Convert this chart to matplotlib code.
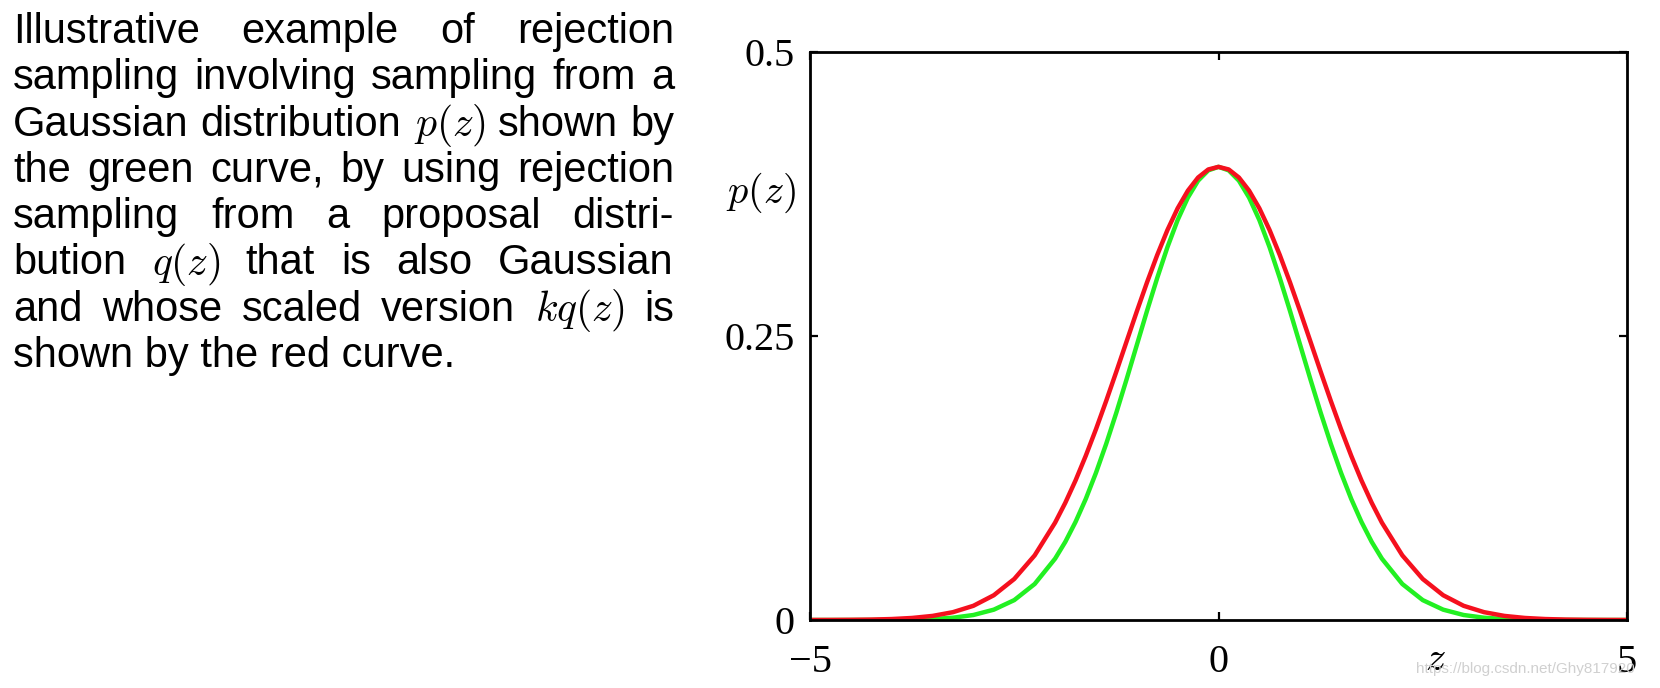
import matplotlib
matplotlib.use("Agg")
import matplotlib.pyplot as plt

plt.rcParams['mathtext.fontset'] = 'cm'

z_half = [0.0, 0.125, 0.25, 0.375, 0.5, 0.625, 0.75, 0.875, 1.0, 1.125,
          1.25, 1.375, 1.5, 1.625, 1.75, 1.875, 2.0, 2.25, 2.5, 2.75,
          3.0, 3.25, 3.5, 3.75, 4.0, 4.25, 4.5, 4.75, 5.0]

# green curve p(z)
p_half = [0.3989, 0.3958, 0.3867, 0.3718, 0.3521, 0.3282, 0.3011, 0.2721,
          0.2420, 0.2119, 0.1826, 0.1550, 0.1295, 0.1065, 0.0863, 0.0688,
          0.0540, 0.0317, 0.0175, 0.0091, 0.0044, 0.0020, 0.00087, 0.00035,
          0.00013, 0.00005, 0.00002, 0.000005, 0.0]
# red curve kq(z)
kq_half = [0.3989, 0.3966, 0.3895, 0.3779, 0.3624, 0.3433, 0.3213, 0.2972,
           0.2716, 0.2452, 0.2187, 0.1928, 0.1679, 0.1445, 0.1228, 0.1032,
           0.0857, 0.0569, 0.0361, 0.0218, 0.0125, 0.0069, 0.0036, 0.0018,
           0.00085, 0.00038, 0.00017, 0.00007, 0.00003]

z = [-v for v in z_half[::-1]] + z_half[1:]
p_vals = p_half[::-1] + p_half[1:]
kq_vals = kq_half[::-1] + kq_half[1:]

x_ticks = [-5, 0, 5]
x_tick_labels = ['\u22125', '0', '5']
y_ticks = [0, 0.25, 0.5]
y_tick_labels = ['0', '0.25', '0.5']

caption = [
    ["Illustrative", "example", "of", "rejection"],
    ["sampling", "involving", "sampling", "from", "a"],
    ["Gaussian", "distribution", "$p(z)$", "shown", "by"],
    ["the", "green", "curve,", "by", "using", "rejection"],
    ["sampling", "from", "a", "proposal", "distri-"],
    ["bution", "$q(z)$", "that", "is", "also", "Gaussian"],
    ["and", "whose", "scaled", "version", "$kq(z)$", "is"],
    ["shown", "by", "the", "red", "curve."],
]

W, H = 1660, 688
fig = plt.figure(figsize=(W / 100, H / 100), dpi=100)
ax = fig.add_axes([810 / W, 1 - 620 / H, 817 / W, 568 / H])

ax.plot(z, p_vals, color='#22f022', lw=3.2, solid_joinstyle='round')
ax.plot(z, kq_vals, color='#f5101e', lw=3.2, solid_joinstyle='round')

ax.set_xlim(-5, 5)
ax.set_ylim(0, 0.5)
ax.set_xticks(x_ticks)
ax.set_xticklabels(x_tick_labels)
ax.set_yticks(y_ticks)
ax.set_yticklabels(y_tick_labels)
for spine in ax.spines.values():
    spine.set_linewidth(2.0)
ax.tick_params(direction='in', length=6, width=1.6, top=True, right=True,
               labelsize=29)
ax.tick_params(axis='x', pad=17)
ax.tick_params(axis='y', pad=11)
for lab in ax.get_xticklabels() + ax.get_yticklabels():
    lab.set_fontfamily('Liberation Serif')

ax.text(-0.018, 0.752, '$p(z)$', transform=ax.transAxes, ha='right',
        va='center', fontsize=29)
ax.text(2.65, -0.068, '$z$', transform=ax.get_xaxis_transform(),
        ha='center', va='center', fontsize=29)

fig.text(1416 / W, 1 - 669 / H, 'https://blog.csdn.net/Ghy817920',
         fontsize=11, color='#d0d0d0', family='Liberation Sans',
         va='center', ha='left')

# justified caption on the left
left, right = 13, 674
base0, step = 43, 46.3
fs = 30
fig.canvas.draw()
renderer = fig.canvas.get_renderer()
for i, words in enumerate(caption):
    yb = 1 - (base0 + step * i) / H
    if i == len(caption) - 1:
        fig.text(left / W, yb, ' '.join(words), fontsize=fs,
                 family='Liberation Sans', va='baseline', ha='left')
        continue
    texts = [fig.text(0, yb, w, fontsize=fs, family='Liberation Sans',
                      va='baseline', ha='left') for w in words]
    widths = [t.get_window_extent(renderer).width for t in texts]
    gap = (right - left - sum(widths)) / (len(words) - 1)
    x = left
    for t, w in zip(texts, widths):
        t.set_x(x / W)
        x += w + gap

fig.savefig('out.png', dpi=100)
